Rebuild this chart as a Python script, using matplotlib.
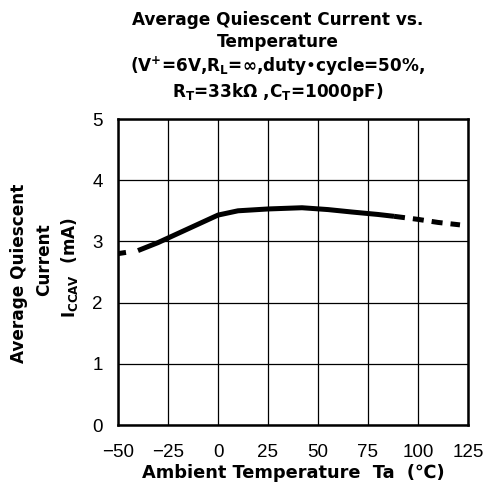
import matplotlib
matplotlib.use("Agg")
import matplotlib.pyplot as plt

plt.rcParams['font.family'] = ['DejaVu Sans', 'Noto Sans CJK JP']
plt.rcParams['mathtext.default'] = 'regular'

W, H = 487, 492

# measured curve (solid part)
temp_solid = [-40, -30, -24, -10, 0, 10, 25, 42, 55, 67, 80, 88]
icc_solid = [2.85, 2.98, 3.07, 3.28, 3.43, 3.50, 3.53, 3.55, 3.52, 3.48, 3.44, 3.41]

# extrapolated parts (dashed)
temp_low = [-50, -46]
icc_low = [2.80, 2.82]
temp_high = [88, 100, 110, 121]
icc_high = [3.41, 3.36, 3.31, 3.27]

xticks = [-50, -25, 0, 25, 50, 75, 100, 125]
xticklabels = ['\u221250', '\u221225', '0', '25', '50', '75', '100', '125']
yticks = [0, 1, 2, 3, 4, 5]

title_lines = ['Average Quiescent Current vs.',
               'Temperature',
               '(V$^{+}$=6V,R$_{L}$=\u221e,duty\u2022cycle=50%,',
               'R$_{T}$=33k\u03a9 ,C$_{T}$=1000pF)']
ylabel_lines = ['Average Quiescent', 'Current', '$I_{CCAV}$  (mA)']


def px(x, y):
    return x / W, 1 - y / H


fig = plt.figure(figsize=(W / 100, H / 100), dpi=100)
ax = fig.add_axes([118 / W, 1 - 425 / H, 350 / W, 306 / H])

ax.plot(temp_solid, icc_solid, color='black', lw=3.6, solid_capstyle='butt')
ax.plot(temp_low, icc_low, color='black', lw=3.6, solid_capstyle='butt')
ax.plot(temp_high, icc_high, color='black', lw=3.6, dashes=(2.2, 1.6))

ax.set_xlim(-50, 125)
ax.set_ylim(0, 5)
ax.set_xticks(xticks)
ax.set_xticklabels(xticklabels, family='Liberation Sans', fontsize=13.5)
ax.set_yticks(yticks)
ax.set_yticklabels([str(v) for v in yticks], family='Liberation Sans', fontsize=13.5)
ax.tick_params(length=0)
ax.tick_params(axis='x', pad=14)
ax.tick_params(axis='y', pad=11)
ax.grid(True, color='black', lw=0.9)
for s in ax.spines.values():
    s.set_linewidth(1.8)

# title, one text per line
for (yy, line) in zip([25, 47, 72, 97], title_lines):
    fig.text(*px(278, yy), line, ha='center', va='baseline',
             fontsize=12.2, fontweight='bold')

fig.text(*px(293, 473), 'Ambient Temperature  Ta  (\u2103)', ha='center', va='center',
         fontsize=12.8, fontweight='bold')

for (xx, yy, line) in zip([19, 44, 70], [273, 260, 268], ylabel_lines):
    fig.text(*px(xx, yy), line, ha='center', va='center', rotation=90,
             fontsize=12.2, fontweight='bold')

fig.savefig('out.png', dpi=100)
